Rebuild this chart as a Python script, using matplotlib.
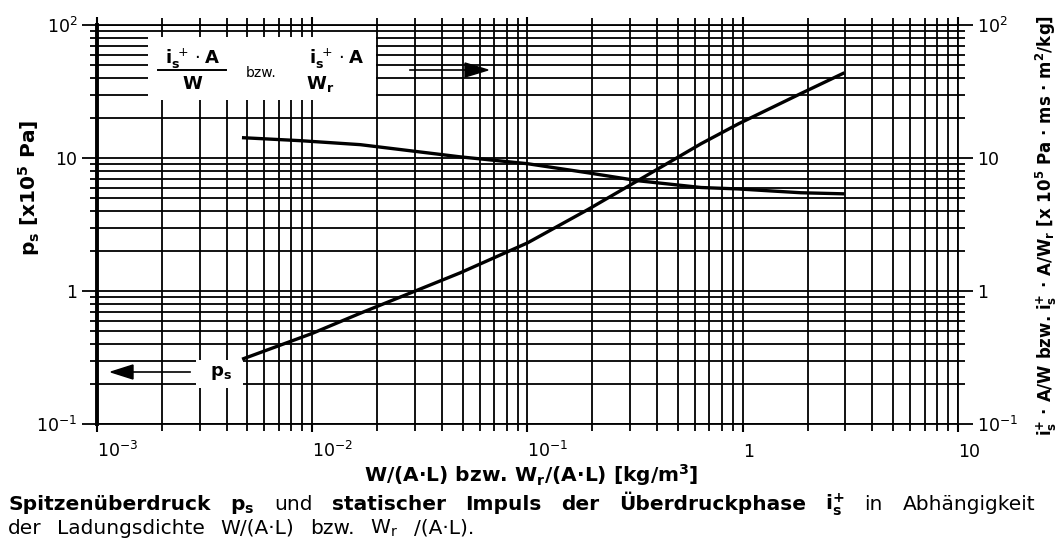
import matplotlib.pyplot as plt
from matplotlib.patches import Rectangle, Polygon
from matplotlib.lines import Line2D
from matplotlib.ticker import FixedLocator, LogLocator, NullFormatter, FixedFormatter
from matplotlib.transforms import IdentityTransform

plt.rcParams['font.family'] = ['DejaVu Sans']
plt.rcParams['mathtext.fontset'] = 'dejavusans'

# Kurven
ps_x = [0.0048, 0.01, 0.0167, 0.0487, 0.1, 0.19, 0.325, 0.64, 0.957, 1.86, 2.92]
ps_y = [0.31, 0.48, 0.68, 1.37, 2.3, 4.08, 6.75, 12.8, 18.1, 30.5, 43.2]
is_x = [0.0048, 0.0088, 0.0167, 0.0487, 0.1, 0.19, 0.325, 0.64, 0.957, 1.86, 2.92]
is_y = [14.2, 13.5, 12.6, 10.2, 9.06, 7.75, 6.75, 6.0, 5.85, 5.48, 5.38]

# Achsen
x_ticks = [1e-3, 1e-2, 1e-1, 1, 10]
x_labels = ['10$^{-3}$', '10$^{-2}$', '10$^{-1}$', '1', '10']
y_ticks = [0.1, 1, 10, 100]
y_labels = ['10$^{-1}$', '1', '10', '10$^{2}$']

# Bildunterschrift: (Wort, fett)
caption_1 = [('Spitzenüberdruck', True), (r'$\mathbf{p}_\mathbf{s}$', True), ('und', False),
             ('statischer', True), ('Impuls', True), ('der', True), ('Überdruckphase', True),
             (r'$\mathbf{i}_\mathbf{s}^\mathbf{+}$', True), ('in', False), ('Abhängigkeit', False)]
caption_2 = [('der', False), ('Ladungsdichte', False), ('W/(A·L)', False), ('bzw.', False),
             (r'W$_\mathrm{r}$', False), ('/(A·L).', False)]

W, H = 1061, 544
fig = plt.figure(figsize=(W / 100, H / 100), dpi=100)


def fx(x):
    return x / W


def fy(y):
    return 1 - y / H


ax = fig.add_axes([fx(97), fy(424), (958 - 97) / W, (424 - 25) / H])
ax.set_xscale('log')
ax.set_yscale('log')
ax.set_xlim(1e-3, 10)
ax.set_ylim(0.1, 100)

# Gitter
ax.grid(True, which='both', color='black', lw=1.3)
ax.set_axisbelow(True)
ax.xaxis.set_major_locator(FixedLocator(x_ticks))
ax.xaxis.set_major_formatter(FixedFormatter(x_labels))
ax.xaxis.set_minor_locator(LogLocator(subs=range(2, 10)))
ax.xaxis.set_minor_formatter(NullFormatter())
ax.yaxis.set_major_locator(FixedLocator(y_ticks))
ax.yaxis.set_major_formatter(FixedFormatter(y_labels))
ax.yaxis.set_minor_locator(LogLocator(subs=range(2, 10)))
ax.yaxis.set_minor_formatter(NullFormatter())
ax.tick_params(which='both', direction='out', labelsize=12.5, colors='black')
ax.tick_params(axis='y', which='major', length=11, width=1.3, pad=3,
               left=True, right=True, labelleft=True, labelright=True)
ax.tick_params(axis='y', which='minor', length=5, width=1.3, left=True, right=True)
ax.tick_params(axis='x', which='major', length=6, width=1.5, pad=18, top=True)
ax.tick_params(axis='x', which='minor', length=5, width=1.3, top=True)
for s in ['top', 'right', 'bottom']:
    ax.spines[s].set_linewidth(1.3)
ax.spines['left'].set_linewidth(2.8)
for lbl in ax.get_xticklabels():
    lbl.set_horizontalalignment('left')
    lbl.set_verticalalignment('baseline')

# Kurven
ax.plot(ps_x, ps_y, color='black', lw=2.4, zorder=5)
ax.plot(is_x, is_y, color='black', lw=2.4, zorder=5)

# weisser Kasten oben links
ax.add_patch(Rectangle((fx(148), fy(100)), (376 - 148) / W, (100 - 37) / H,
                       transform=fig.transFigure, facecolor='white',
                       edgecolor='none', zorder=3, clip_on=False))
fs_box = 13
fig.text(fx(192), fy(59), r'$\mathbf{i}_\mathbf{s}^{\ +}\cdot\mathbf{A}$', ha='center', va='center',
         fontsize=fs_box, fontweight='bold')
fig.add_artist(Line2D([fx(158), fx(226)], [fy(70), fy(70)], color='black', lw=1.4))
fig.text(fx(192), fy(84), 'W', ha='center', va='center', fontsize=fs_box, fontweight='bold')
fig.text(fx(261), fy(73), 'bzw.', ha='center', va='center', fontsize=10)
fig.text(fx(336), fy(59), r'$\mathbf{i}_\mathbf{s}^{\ +}\cdot\mathbf{A}$', ha='center', va='center',
         fontsize=fs_box, fontweight='bold')
fig.text(fx(320), fy(84), r'W$_\mathbf{r}$', ha='center', va='center', fontsize=fs_box,
         fontweight='bold')
# Pfeil nach rechts
fig.add_artist(Line2D([fx(410), fx(466)], [fy(70), fy(70)], color='black', lw=1.2))
fig.add_artist(Polygon([[fx(465), fy(63)], [fx(465), fy(77)], [fx(488), fy(70)]],
                       closed=True, color='black', transform=fig.transFigure))

# p_s Hinweis mit Pfeil nach links
ax.add_patch(Rectangle((fx(196), fy(388)), (243 - 196) / W, (388 - 360) / H,
                       transform=fig.transFigure, facecolor='white',
                       edgecolor='none', zorder=3, clip_on=False))
fig.text(fx(221), fy(373), r'$\mathbf{p}_\mathbf{s}$', ha='center', va='center',
         fontsize=13, fontweight='bold')
fig.add_artist(Line2D([fx(132), fx(190)], [fy(372), fy(372)], color='black', lw=1.2))
fig.add_artist(Polygon([[fx(133), fy(365)], [fx(133), fy(379)], [fx(111), fy(372)]],
                       closed=True, color='black', transform=fig.transFigure))

# Achsenbeschriftungen
fig.text(fx(29), fy(188), r'$\mathbf{p}_\mathbf{s}$ [x10$^\mathbf{5}$ Pa]', rotation=90,
         ha='center', va='center', fontsize=14.5, fontweight='bold')
fig.text(fx(1046), fy(225),
         r'$\mathbf{i}_\mathbf{s}^\mathbf{+}$ · A/W bzw. $\mathbf{i}_\mathbf{s}^\mathbf{+}$ · A/W$_\mathbf{r}$'
         r' [x 10$^\mathbf{5}$ Pa · ms · m$^\mathbf{2}$/kg]',
         rotation=90, ha='center', va='center', fontsize=12, fontweight='bold')
fig.text(fx(531), fy(482), r'W/(A·L) bzw. W$_\mathbf{r}$/(A·L) [kg/m$^\mathbf{3}$]',
         ha='center', va='baseline', fontsize=14.5, fontweight='bold')

# Bildunterschrift, Woerter auf die Zeilenbreite verteilt
renderer = fig.canvas.get_renderer()
fs_cap = 14.5


def place_words(words, x0, y):
    items = []
    for s, bold in words:
        t = fig.text(x0, H - y, s, transform=IdentityTransform(), fontsize=fs_cap,
                     fontweight='bold' if bold else 'normal', va='baseline')
        items.append((t, t.get_window_extent(renderer).width))
    return items


def layout(items, x0, gap):
    x = x0
    for t, w in items:
        t.set_x(x)
        x += w + gap


line1 = place_words(caption_1, 8, 510)
line2 = place_words(caption_2, 8, 534)
gap = (1035 - 8 - sum(w for _, w in line1)) / (len(line1) - 1)
layout(line1, 8, gap)
layout(line2, 8, gap * 0.8)

fig.savefig('out.png', dpi=100)
